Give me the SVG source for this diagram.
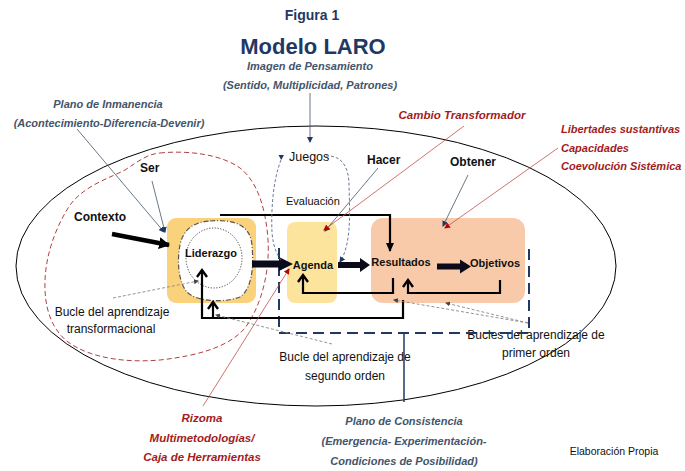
<svg xmlns="http://www.w3.org/2000/svg" width="685" height="471" viewBox="0 0 685 471">
<style>
text{font-family:"Liberation Sans",Arial,sans-serif;}
.t{fill:#1f3864;font-weight:bold;text-anchor:middle;}
.gi{fill:#44546a;font-style:italic;font-weight:bold;font-size:11px;text-anchor:middle;}
.ri{fill:#a31b1b;font-style:italic;font-weight:bold;font-size:11.5px;}
.rs{font-size:11px;}
.lb{fill:#111;font-weight:bold;font-size:12px;}
.nb{fill:#111;font-weight:bold;font-size:11px;text-anchor:middle;}
.lr{fill:#111;font-size:12px;text-anchor:middle;}
.fb{fill:none;stroke:#000;stroke-width:2.2;}
.pb{fill:none;stroke:#44546a;stroke-width:0.8;}
.pr{fill:none;stroke:#c0504d;stroke-width:0.8;}
.pg{fill:none;stroke:#888;stroke-width:0.9;stroke-dasharray:3,2;}
.nav{fill:none;stroke:#1f3864;stroke-width:2;stroke-dasharray:11,6;}
</style>
<defs>
<marker id="mb" markerUnits="userSpaceOnUse" markerWidth="6" markerHeight="6" refX="5" refY="3" orient="auto"><path d="M0,0 L6,3 L0,6 z" fill="#1f3864"/></marker>
<marker id="mr" markerUnits="userSpaceOnUse" markerWidth="6" markerHeight="6" refX="5" refY="3" orient="auto"><path d="M0,0 L6,3 L0,6 z" fill="#c00000"/></marker>
<marker id="mg" markerUnits="userSpaceOnUse" markerWidth="5" markerHeight="5" refX="4" refY="2.5" orient="auto"><path d="M0,0 L5,2.5 L0,5 z" fill="#444"/></marker>
<marker id="mk" markerUnits="userSpaceOnUse" markerWidth="12" markerHeight="12" refX="10" refY="6" orient="auto"><path d="M0,0 L11,6 L0,12 z" fill="#000"/></marker>
<marker id="mc" markerUnits="userSpaceOnUse" markerWidth="12" markerHeight="12" refX="9" refY="6" orient="auto"><path d="M2,1 L9,6 L2,11" fill="none" stroke="#000" stroke-width="2.4"/></marker>
<marker id="md" markerUnits="userSpaceOnUse" markerWidth="10" markerHeight="10" refX="8" refY="5" orient="auto"><path d="M0,1 L9,5 L0,9 z" fill="#000"/></marker>
</defs>

<!-- titles -->
<g id="titles">
<text class="t" x="312" y="20" font-size="14">Figura 1</text>
<text class="t" x="313" y="54" font-size="22">Modelo LARO</text>
<text class="gi" x="310" y="70">Imagen de Pensamiento</text>
<text class="gi" x="310" y="89">(Sentido, Multiplicidad, Patrones)</text>
<text class="gi" x="108" y="108">Plano de Inmanencia</text>
<text class="gi" x="109" y="127">(Acontecimiento-Diferencia-Devenir)</text>
<text class="ri" x="462" y="119" text-anchor="middle">Cambio Transformador</text>
<text class="ri rs" x="561" y="133">Libertades sustantivas</text>
<text class="ri rs" x="561" y="152">Capacidades</text>
<text class="ri rs" x="561" y="170">Coevolución Sistémica</text>
<text class="ri" x="202" y="422" text-anchor="middle">Rizoma</text>
<text class="ri" x="202" y="442" text-anchor="middle">Multimetodologías/</text>
<text class="ri" x="202" y="461" text-anchor="middle">Caja de Herramientas</text>
<text class="gi" x="404" y="425">Plano de Consistencia</text>
<text class="gi" x="404" y="445">(Emergencia- Experimentación-</text>
<text class="gi" x="404" y="465">Condiciones de Posibilidad)</text>
<text x="614" y="455" font-size="10.5" fill="#111" text-anchor="middle">Elaboración Propia</text>
</g>

<!-- background shapes -->
<g id="plane">
<ellipse cx="316" cy="266" rx="300" ry="140" fill="none" stroke="#000" stroke-width="1"/>
<path d="M160,153 C190,150 222,155 240,168 C258,182 266,210 268,240 C270,270 262,305 245,328 C228,348 195,356 160,360 C125,363 90,358 68,342 C50,328 44,305 45,280 C46,255 55,228 70,205 C85,185 110,178 125,170 C140,160 148,154 160,153 Z" fill="none" stroke="#b04040" stroke-width="1" stroke-dasharray="5,3"/>
</g>

<!-- nodes -->
<g id="liderazgo">
<rect x="167" y="218" width="89" height="85" rx="9" fill="#fbd27c"/>
<path d="M210,221 C236,219 251,226 252,246 C254,266 252,289 240,297 C225,303 196,302 187,292 C178,282 177,260 180,245 C183,230 193,222 210,221 Z" fill="#fff" stroke="#555" stroke-width="1.2" stroke-dasharray="5,2,1,2"/>
<ellipse cx="214" cy="258" rx="28" ry="30" fill="none" stroke="#333" stroke-width="0.9" stroke-dasharray="1.2,1.6"/>
<text class="nb" x="211" y="257">Liderazgo</text>
</g>
<g id="agenda">
<rect x="287" y="222" width="50" height="81" rx="8" fill="#fde49c"/>
<text class="nb" x="313" y="269">Agenda</text>
</g>
<g id="resultados-objetivos">
<rect x="371" y="218" width="154" height="85" rx="12" fill="#f8caa9"/>
<text class="nb" x="401" y="266">Resultados</text>
<text class="nb" x="495" y="267">Objetivos</text>
</g>

<g id="labels">
<text class="lb" x="140" y="172">Ser</text>
<text class="lb" x="74" y="221">Contexto</text>
<text class="lb" x="367" y="164">Hacer</text>
<text class="lb" x="450" y="166">Obtener</text>
<text x="289" y="161" font-size="12.5" fill="#111">Juegos</text>
<text x="286" y="205" font-size="11" fill="#111">Evaluación</text>
<text class="lr" x="112" y="316">Bucle del aprendizaje</text>
<text class="lr" x="111" y="333">transformacional</text>
<text class="lr" x="345" y="361">Bucle del aprendizaje de</text>
<text class="lr" x="345" y="380">segundo orden</text>
<text class="lr" x="536" y="339">Bucles del aprendizaje de</text>
<text class="lr" x="536" y="357">primer orden</text>
</g>

<!-- connectors -->
<g id="connectors">
<path class="nav" d="M279,248 V333 H529 V245"/>
<line x1="404" y1="333" x2="404" y2="402" stroke="#1f3864" stroke-width="1.5"/>

<line x1="112" y1="234" x2="169" y2="245" stroke="#000" stroke-width="4.5" marker-end="url(#mk)"/>
<path d="M252,260.5 H279 V257 L293,264 L279,271 V267.5 H252 Z" fill="#0a0a1a"/>
<path d="M338,262 H360 V258 L370,265 L360,272 V268 H338 Z" fill="#0a0a1a"/>
<path d="M437,263.5 H460 V259.5 L471,266.5 L460,273.5 V269.5 H437 Z" fill="#0a0a1a"/>

<path class="fb" d="M220,215 H390 V251" marker-end="url(#md)"/>
<path class="fb" d="M393,278 V293 H303 V275" marker-end="url(#mc)"/>
<path class="fb" d="M500,280 V293 H408 V280" marker-end="url(#mc)"/>
<path class="fb" d="M403,300 V318 H202 V270" marker-end="url(#mc)"/>
<path class="fb" d="M213,318 V302" marker-end="url(#mc)"/>

<path d="M281,160 C273,180 271,210 272,232 C273,248 278,256 282,262" fill="none" stroke="#5a6a8a" stroke-width="0.9" stroke-dasharray="3,2"/>
<path d="M278.5,155 L284,155 L281.2,160 Z" fill="#1f3864"/>
<path d="M326,156 C341,155 349,166 349,186 C350,215 351,245 340,262" fill="none" stroke="#5a6a8a" stroke-width="0.9" stroke-dasharray="3,2" marker-end="url(#mb)"/>

<line class="pb" x1="310" y1="93" x2="310" y2="142" marker-end="url(#mb)"/>
<line class="pb" x1="77" y1="129" x2="164" y2="232" marker-end="url(#mb)"/>
<line class="pb" x1="152" y1="181" x2="165" y2="232" marker-end="url(#mb)"/>
<line class="pb" x1="378" y1="168" x2="325" y2="231" marker-end="url(#mb)"/>
<line class="pb" x1="468" y1="175" x2="443" y2="226" marker-end="url(#mb)"/>
<line class="pr" x1="464" y1="126" x2="324" y2="230" marker-end="url(#mr)"/>
<line class="pr" x1="558" y1="148" x2="445" y2="228" marker-end="url(#mr)"/>
<line class="pr" x1="203" y1="406" x2="289" y2="269" marker-end="url(#mr)"/>

<line class="pg" x1="113" y1="298" x2="198" y2="281" marker-end="url(#mg)"/>
<line class="pg" x1="332" y1="344" x2="216" y2="315" marker-end="url(#mg)"/>
<line class="pg" x1="528" y1="323" x2="394" y2="300" marker-end="url(#mg)"/>
<line class="pg" x1="528" y1="323" x2="446" y2="303" marker-end="url(#mg)"/>
</g>
</svg>
